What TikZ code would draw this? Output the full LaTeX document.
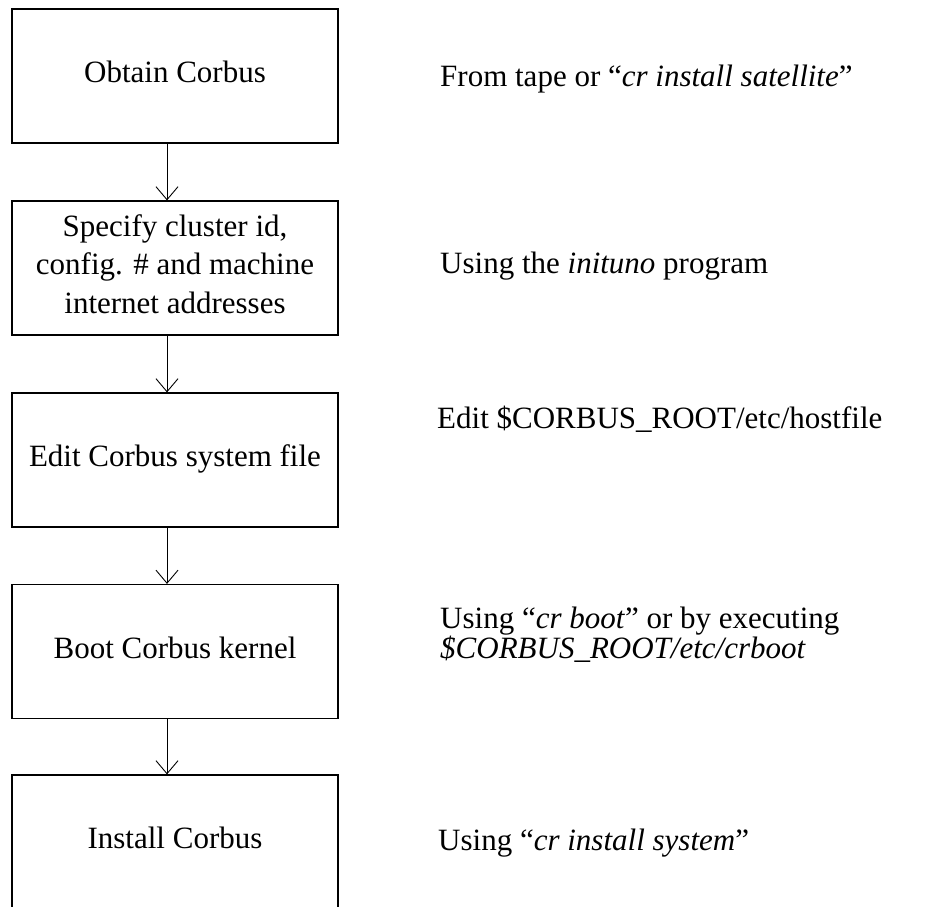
\documentclass[tikz,border=0pt]{standalone}
\usepackage{fontspec}
\setmainfont{Liberation Serif}
\usetikzlibrary{arrows.meta}
\begin{document}
\begin{tikzpicture}[x=1pt,y=-1pt,
  stepbox/.style={draw,line width=1.2pt,minimum width=326pt,minimum height=134pt,inner sep=0pt,text depth=8pt,align=center,font=\fontsize{31}{38.5}\selectfont},
  flow/.style={-{Straight Barb[length=13pt,width=22pt]},line width=0.9pt},
  note/.style={anchor=base west,inner sep=0pt,align=left,font=\fontsize{31}{30}\selectfont}]
\useasboundingbox (0,0) rectangle (935,907);
\clip (0,0) rectangle (935,907);
\fill[white] (0,0) rectangle (935,907);
\node[stepbox] (b1) at (175,76) {Obtain Corbus};
\node[stepbox] (b2) at (175,268) {Specify cluster id,\\config. \# and machine\\internet addresses};
\node[stepbox] (b3) at (175,460) {Edit Corbus system file};
\node[stepbox] (b4) at (175,651.5) {Boot Corbus kernel};
\node[stepbox] (b5) at (175,842) {Install Corbus};
\draw[flow] ([xshift=-8pt]b1.south) -- ([xshift=-8pt]b2.north);
\draw[flow] ([xshift=-8pt]b2.south) -- ([xshift=-8pt]b3.north);
\draw[flow] ([xshift=-8pt]b3.south) -- ([xshift=-8pt]b4.north);
\draw[flow] ([xshift=-8pt]b4.south) -- ([xshift=-8pt]b5.north);
\node[note] (n1) at (440,87) {From tape or “\textit{cr install satellite}”};
\node[note] (n2) at (440,273) {Using the \textit{inituno} program};
\node[note] (n3) at (437,428) {Edit \$CORBUS\_ROOT/etc/hostfile};
\node[note] (n4) at (440,658) {Using “\textit{cr boot}” or by executing\\\textit{\$CORBUS\_ROOT/etc/crboot}};
\node[note] (n5) at (438,850) {Using “\textit{cr install system}”};
\end{tikzpicture}
\end{document}
